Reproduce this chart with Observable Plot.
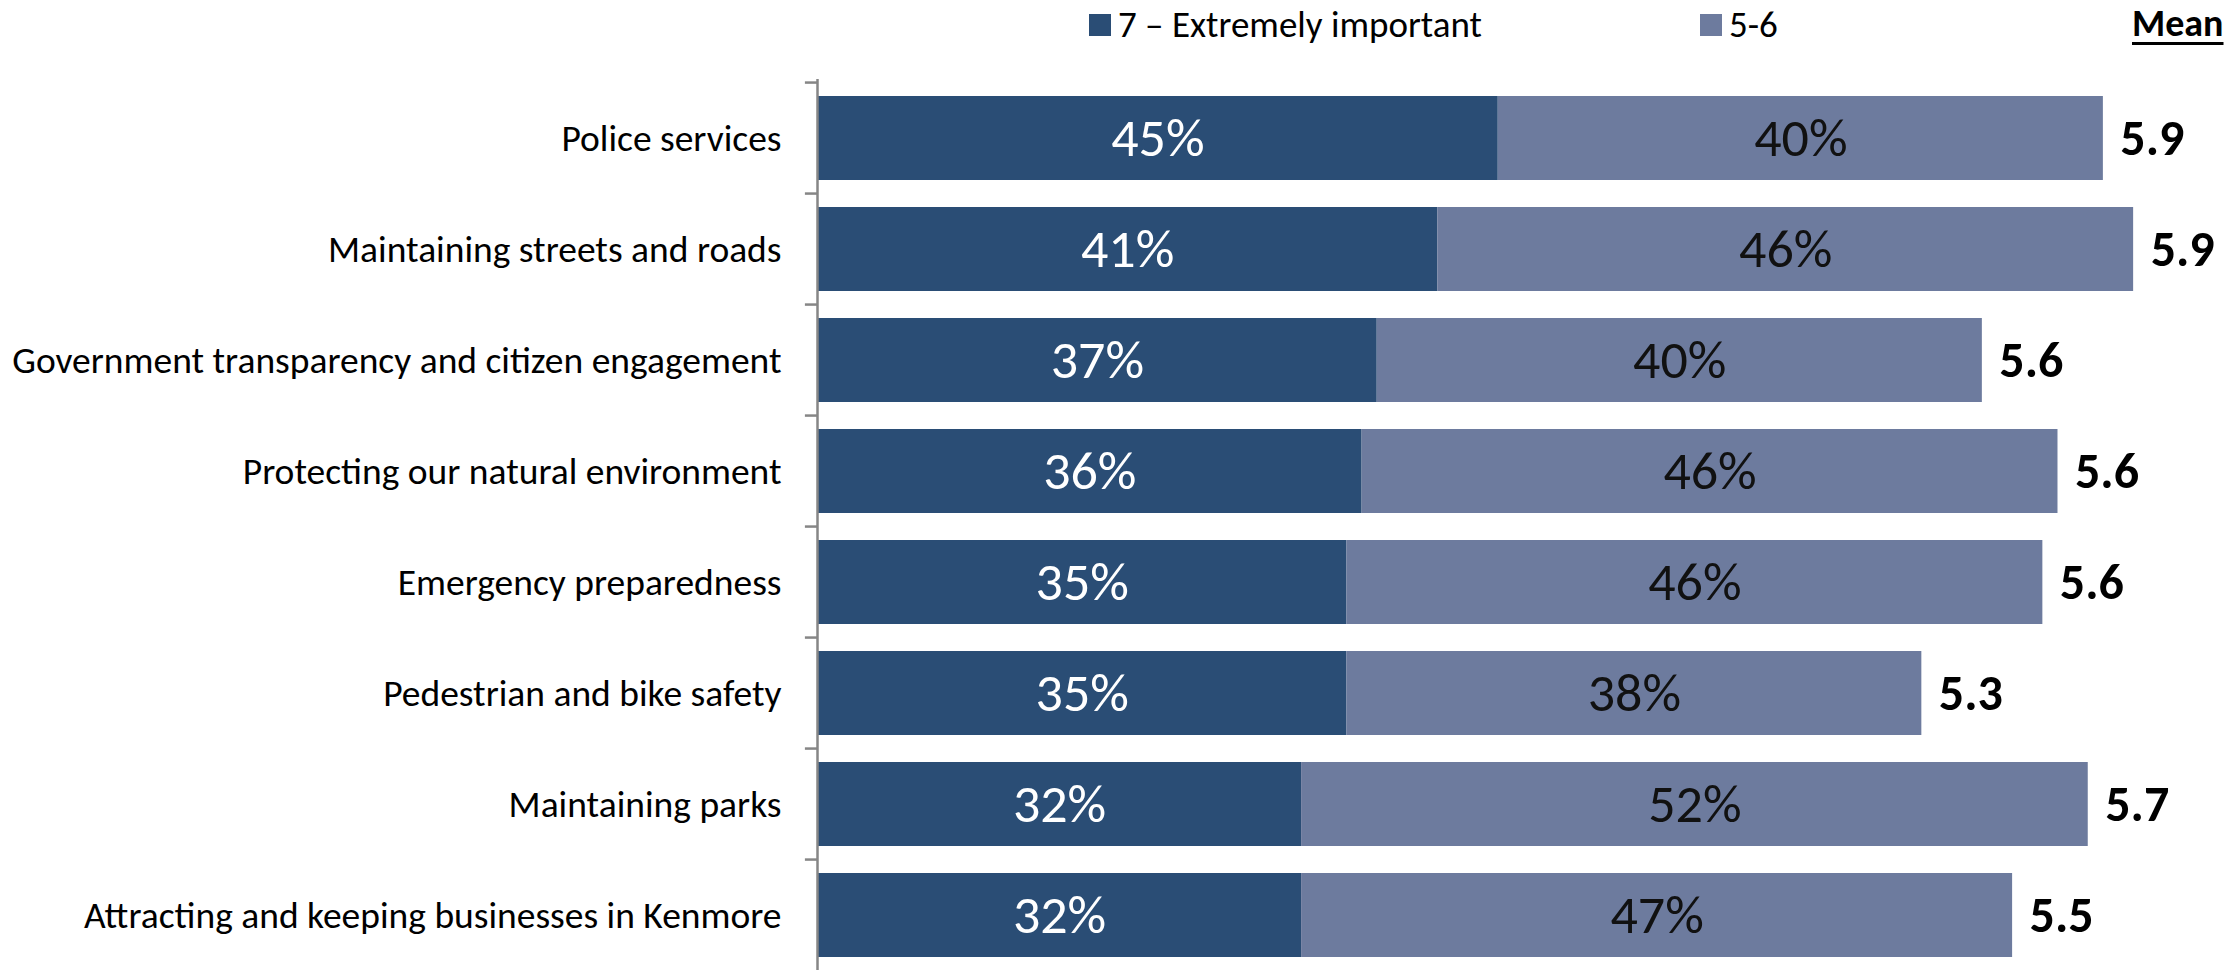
<!DOCTYPE html>
<html>
<head>
<meta charset="utf-8">
<script src="https://cdn.jsdelivr.net/npm/d3@7"></script>
<script src="https://cdn.jsdelivr.net/npm/@observablehq/plot@0.6"></script>
<style>
  html, body { margin: 0; padding: 0; background: #fff; overflow: hidden; }
  body { width: 2236px; height: 970px; font-family: Carlito, Calibri, Lato, sans-serif; }
  #legend { position: relative; width: 2236px; height: 48px; color: #000; }
  #legend .sw { position: absolute; top: 14px; width: 22px; height: 22px; }
  #legend .lb { position: absolute; top: 5px; font-size: 37px; line-height: 40px; white-space: nowrap; }
  #legend .mean { position: absolute; top: 3px; font-size: 38px; line-height: 40px; font-weight: bold; text-decoration: underline; text-decoration-thickness: 3px; text-underline-offset: 6px; }
  svg { display: block; }
</style>
</head>
<body>
<div id="legend"></div>
<div id="chart"></div>
<script>
const categories = [
  "Police services",
  "Maintaining streets and roads",
  "Government transparency and citizen engagement",
  "Protecting our natural environment",
  "Emergency preparedness",
  "Pedestrian and bike safety",
  "Maintaining parks",
  "Attracting and keeping businesses in Kenmore"
];
const extremely = [45, 41, 37, 36, 35, 35, 32, 32];   // "7 – Extremely important"
const important = [40, 46, 40, 46, 46, 38, 52, 47];   // "5-6"
const means     = [5.9, 5.9, 5.6, 5.6, 5.6, 5.3, 5.7, 5.5];
const seriesNames = ["7 – Extremely important", "5-6"];
const seriesColors = ["#2a4d75", "#6d7b9e"];

// legend (HTML, above the SVG)
const legend = document.getElementById("legend");
legend.innerHTML = `
  <div class="sw" style="left:1089px;background:${seriesColors[0]}"></div>
  <div class="lb" style="left:1118px">${seriesNames[0]}</div>
  <div class="sw" style="left:1700px;background:${seriesColors[1]}"></div>
  <div class="lb" style="left:1729px">${seriesNames[1]}</div>
  <div class="mean" style="left:2132px">Mean</div>`;

// tables built from the arrays
const rows = categories.map((c, i) => ({
  cat: c, top: extremely[i], mid: important[i], mean: means[i]
}));
const segs = [];
rows.forEach(r => {
  segs.push({cat: r.cat, series: seriesNames[0], x1: 0, x2: r.top, v: r.top});
  segs.push({cat: r.cat, series: seriesNames[1], x1: r.top, x2: r.top + r.mid, v: r.mid});
});

const W = 2236, H = 926, mTop = 31, mLeft = 817;
const step = (H - mTop) / categories.length;
const font = "Carlito, Calibri, Lato, sans-serif";

const chart = Plot.plot({
  width: W,
  height: H,
  marginTop: mTop,
  marginBottom: 0,
  marginLeft: mLeft,
  marginRight: 0,
  style: {fontFamily: font, background: "#fff", overflow: "visible"},
  x: {domain: [0, 93.8], axis: null},
  y: {domain: categories, padding: 0.24, paddingOuter: 0.12, axis: null},
  color: {domain: seriesNames, range: seriesColors},
  marks: [
    Plot.barX(segs, {y: "cat", x1: "x1", x2: "x2", fill: "series"}),
    // axis line and boundary ticks
    Plot.ruleX([0], {stroke: "#868686", strokeWidth: 2.5}),
    Plot.ruleY(categories, {y: d => d, x1: -0.8, x2: 0, dy: -step / 2, stroke: "#868686", strokeWidth: 2.5}),
    // category labels
    Plot.axisY({tickSize: 0, tickPadding: 36, fontSize: 37.5, color: "#000", label: null}),
    // percentage labels
    Plot.text(segs, {
      y: "cat", x: d => (d.x1 + d.x2) / 2, text: d => d.v + "%",
      fill: d => d.series === seriesNames[0] ? "#fff" : "#111",
      fontSize: 54
    }),
    // mean labels
    Plot.text(rows, {
      y: "cat", x: d => d.top + d.mid, text: d => d.mean.toFixed(1),
      textAnchor: "start", dx: 17, fontSize: 50, fontWeight: "bold", fill: "#000"
    })
  ]
});
document.getElementById("chart").appendChild(chart);
</script>
</body>
</html>
